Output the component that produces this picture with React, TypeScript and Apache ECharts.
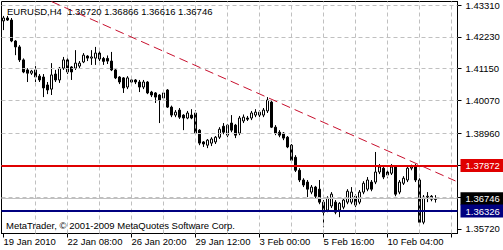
import React, { useEffect, useRef } from "react";
import * as echarts from "echarts";

// ---- data (EURUSD H4, 19 Jan 2010 16:00 onward) ----
const barOpen = [
  1.4277, 1.4287, 1.4280, 1.4209, 1.4189, 1.4145, 1.4111, 1.4100, 1.4111, 1.4090,
  1.4087, 1.4060, 1.4046, 1.4097, 1.4077, 1.4117, 1.4145, 1.4121, 1.4117, 1.4124,
  1.4138, 1.4158, 1.4151, 1.4151, 1.4168, 1.4150, 1.4150, 1.4141, 1.4111, 1.4087,
  1.4084, 1.4053, 1.4070, 1.4077, 1.4070, 1.4053, 1.4070, 1.4036, 1.4033, 1.4026,
  1.4016, 1.4043, 1.3985, 1.3958, 1.3975, 1.3958, 1.3948, 1.3958, 1.3965, 1.3907,
  1.3867, 1.3856, 1.3863, 1.3867, 1.3883, 1.3920, 1.3890, 1.3931, 1.3924, 1.3897,
  1.3938, 1.3948, 1.3948, 1.3958, 1.3958, 1.3958, 1.3972, 1.4002, 1.3917, 1.3900,
  1.3897, 1.3883, 1.3856, 1.3815, 1.3771, 1.3738, 1.3731, 1.3697, 1.3714, 1.3707,
  1.3663, 1.3636, 1.3650, 1.3663, 1.3636, 1.3646, 1.3663, 1.3663, 1.3683, 1.3663,
  1.3697, 1.3707, 1.3731, 1.3731, 1.3765, 1.3778, 1.3765, 1.3761, 1.3782, 1.3697,
  1.3727, 1.3738, 1.3778, 1.3782, 1.3738, 1.3595, 1.3680, 1.3683, 1.3672,
];
const barHigh = [
  1.4294, 1.4294, 1.4287, 1.4212, 1.4195, 1.4150, 1.4117, 1.4111, 1.4124, 1.4097,
  1.4097, 1.4070, 1.4134, 1.4111, 1.4121, 1.4155, 1.4161, 1.4124, 1.4178, 1.4141,
  1.4168, 1.4161, 1.4178, 1.4189, 1.4175, 1.4155, 1.4160, 1.4172, 1.4114, 1.4090,
  1.4087, 1.4090, 1.4084, 1.4080, 1.4077, 1.4077, 1.4073, 1.4040, 1.4036, 1.4029,
  1.4040, 1.4046, 1.3990, 1.3975, 1.3982, 1.3961, 1.3972, 1.3978, 1.3975, 1.3910,
  1.3870, 1.3877, 1.3883, 1.3887, 1.3917, 1.3931, 1.3928, 1.3958, 1.3928, 1.3955,
  1.3960, 1.3955, 1.3972, 1.3978, 1.3975, 1.3982, 1.4019, 1.4007, 1.3924, 1.3907,
  1.3900, 1.3887, 1.3860, 1.3822, 1.3778, 1.3744, 1.3738, 1.3721, 1.3718, 1.3738,
  1.3670, 1.3683, 1.3697, 1.3670, 1.3663, 1.3677, 1.3707, 1.3714, 1.3690, 1.3704,
  1.3734, 1.3748, 1.3738, 1.3833, 1.3792, 1.3785, 1.3771, 1.3792, 1.3788, 1.3738,
  1.3751, 1.3785, 1.3790, 1.3792, 1.3744, 1.3687, 1.3697, 1.3687, 1.36866,
];
const barLow = [
  1.4246, 1.4277, 1.4205, 1.4161, 1.4138, 1.4100, 1.4070, 1.4094, 1.4070, 1.4070,
  1.4019, 1.4029, 1.4026, 1.4070, 1.4067, 1.4111, 1.4097, 1.4077, 1.4111, 1.4117,
  1.4134, 1.4141, 1.4128, 1.4128, 1.4141, 1.4128, 1.4131, 1.4107, 1.4080, 1.4063,
  1.4033, 1.4046, 1.4063, 1.4063, 1.4036, 1.4046, 1.4029, 1.4019, 1.3999, 1.3931,
  1.4009, 1.3982, 1.3951, 1.3951, 1.3945, 1.3907, 1.3944, 1.3944, 1.3893, 1.3856,
  1.3850, 1.3846, 1.3853, 1.3860, 1.3877, 1.3893, 1.3883, 1.3900, 1.3880, 1.3890,
  1.3931, 1.3938, 1.3941, 1.3951, 1.3951, 1.3951, 1.3965, 1.3914, 1.3890, 1.3883,
  1.3873, 1.3846, 1.3800, 1.3765, 1.3731, 1.3714, 1.3680, 1.3690, 1.3677, 1.3656,
  1.3578, 1.3629, 1.3643, 1.3622, 1.3612, 1.3639, 1.3656, 1.3656, 1.3646, 1.3656,
  1.3690, 1.3700, 1.3700, 1.3724, 1.3758, 1.3741, 1.3744, 1.3755, 1.3683, 1.3690,
  1.3721, 1.3731, 1.3771, 1.3731, 1.3588, 1.3588, 1.3663, 1.3666, 1.36616,
];
const barClose = [
  1.4287, 1.4280, 1.4209, 1.4189, 1.4145, 1.4104, 1.4100, 1.4107, 1.4087, 1.4077,
  1.4050, 1.4043, 1.4094, 1.4077, 1.4117, 1.4145, 1.4104, 1.4104, 1.4134, 1.4134,
  1.4161, 1.4151, 1.4155, 1.4168, 1.4148, 1.4140, 1.4141, 1.4111, 1.4084, 1.4070,
  1.4050, 1.4084, 1.4077, 1.4070, 1.4053, 1.4070, 1.4033, 1.4026, 1.4019, 1.4009,
  1.4033, 1.3985, 1.3958, 1.3968, 1.3951, 1.3948, 1.3965, 1.3948, 1.3897, 1.3863,
  1.3860, 1.3873, 1.3877, 1.3883, 1.3910, 1.3900, 1.3924, 1.3907, 1.3890, 1.3948,
  1.3951, 1.3944, 1.3965, 1.3968, 1.3968, 1.3975, 1.4009, 1.3917, 1.3897, 1.3890,
  1.3880, 1.3850, 1.3805, 1.3771, 1.3738, 1.3721, 1.3707, 1.3714, 1.3683, 1.3663,
  1.3629, 1.3677, 1.3690, 1.3629, 1.3659, 1.3670, 1.3700, 1.3697, 1.3653, 1.3697,
  1.3727, 1.3738, 1.3707, 1.3765, 1.3782, 1.3748, 1.3755, 1.3782, 1.3690, 1.3731,
  1.3744, 1.3778, 1.3782, 1.3738, 1.3595, 1.3680, 1.3683, 1.3673, 1.36746,
];

const timeLabels = [
  "19 Jan 2010", "22 Jan 08:00", "26 Jan 20:00", "29 Jan 12:00",
  "3 Feb 00:00", "5 Feb 16:00", "10 Feb 04:00",
];
const gridPrices = [1.4331, 1.4223, 1.4115, 1.4007, 1.3896, 1.3788, 1.368];
const tickPrices = [1.4331, 1.4223, 1.4115, 1.4007, 1.3896, 1.3788, 1.368, 1.3572];
const labelPrices = [1.4331, 1.4223, 1.4115, 1.4007, 1.3896, 1.3572];
const resistanceLevel = 1.37872;
const supportLevel = 1.36326;
const bidLevel = 1.36746;
const trendAnchorBars = [12, 113];
const trendAnchorPrices = [1.43427, 1.37347];
const titleText = "EURUSD,H4  1.36720 1.36866 1.36616 1.36746";
const footerText = "MetaTrader, \u00a9 2001-2009 MetaQuotes Software Corp.";

const SLOTS = 114; // bars + empty shift area on the right
const BARS_PER_LABEL = 16;
const BARS_PER_VGRID = 8;

const FONT = "Liberation Sans";
const FS = 9.5;
const RED = "#e00000";
const NAVY = "#000080";

export default function App() {
  const ref = useRef<HTMLDivElement | null>(null);

  useEffect(() => {
    if (!ref.current) return;
    const chart = echarts.init(ref.current, undefined, { renderer: "svg" });

    const cats = Array.from({ length: SLOTS }, (_, i) => String(i));
    const candles = barOpen.map((o, i) => [o, barClose[i], barLow[i], barHigh[i]]);

    const vGrid: any[] = [];
    for (let i = BARS_PER_VGRID; i < SLOTS; i += BARS_PER_VGRID) vGrid.push({ xAxis: cats[i] });
    const hGrid = gridPrices.map((p) => ({ yAxis: p }));

    const levelLabel = (bg: string, text: string) => ({
      show: true,
      position: "end",
      formatter: text,
      color: "#fff",
      backgroundColor: bg,
      padding: [2, 8, 1, 5],
      distance: 3,
      fontFamily: FONT,
      fontSize: FS,
    });

    const option: any = {
      animation: false,
      backgroundColor: "#fff",
      grid: {
        left: 1.5,
        top: 1.5,
        width: 456,
        height: 232,
        show: true,
        borderColor: "#000",
        borderWidth: 1,
        backgroundColor: "#fff",
        containLabel: false,
        outerBoundsMode: "none",
      },
      xAxis: {
        type: "category",
        data: cats,
        boundaryGap: true,
        axisLine: { show: true, lineStyle: { color: "#000", width: 1 } },
        axisTick: {
          show: true,
          interval: BARS_PER_LABEL - 1,
          alignWithLabel: true,
          length: 4,
          lineStyle: { color: "#000" },
        },
        axisLabel: {
          interval: BARS_PER_LABEL - 1,
          align: "left",
          margin: 3,
          color: "#000",
          fontFamily: FONT,
          fontSize: FS,
          formatter: (_v: string, idx: number) => timeLabels[idx / BARS_PER_LABEL] ?? "",
        },
        splitLine: { show: false },
      },
      yAxis: {
        type: "value",
        position: "right",
        min: 1.355675,
        max: 1.434286,
        axisLine: { show: true, lineStyle: { color: "#000", width: 1 } },
        axisTick: {
          show: true,
          length: 4,
          inside: false,
          customValues: tickPrices,
          lineStyle: { color: "#000" },
        },
        axisLabel: {
          customValues: labelPrices,
          margin: 8,
          color: "#000",
          fontFamily: FONT,
          fontSize: FS,
          formatter: (v: number) => v.toFixed(5),
        },
        splitLine: { show: false },
      },
      graphic: [
        {
          type: "text",
          left: 7,
          top: 6,
          z: 100,
          style: { text: titleText, fill: "#000", fontFamily: FONT, fontSize: FS },
        },
        {
          type: "text",
          left: 6,
          top: 220,
          z: 100,
          style: { text: footerText, fill: "#000", fontFamily: FONT, fontSize: FS },
        },
      ],
      series: [
        {
          type: "line",
          data: cats.map(() => null),
          z: 1,
          silent: true,
          showSymbol: false,
          markLine: {
            silent: true,
            symbol: "none",
            precision: 5,
            label: { show: false },
            lineStyle: { color: "#c0c0c0", width: 1, type: [4, 3] },
            data: [...hGrid, ...vGrid],
          },
        },
        {
          type: "candlestick",
          data: candles,
          z: 2,
          barWidth: 2,
          itemStyle: {
            color: "#ffffff",
            color0: "#000000",
            borderColor: "#000000",
            borderColor0: "#000000",
            borderWidth: 1,
          },
          markLine: {
            silent: true,
            symbol: "none",
            precision: 5,
            label: { show: false },
            data: [
              {
                yAxis: bidLevel,
                lineStyle: { color: "#c0c0c0", width: 1, type: "solid" },
                label: levelLabel("#000", bidLevel.toFixed(5)),
              },
              {
                yAxis: resistanceLevel,
                lineStyle: { color: RED, width: 2, type: "solid" },
                label: levelLabel(RED, resistanceLevel.toFixed(5)),
              },
              {
                yAxis: supportLevel,
                lineStyle: { color: NAVY, width: 2, type: "solid" },
                label: levelLabel(NAVY, supportLevel.toFixed(5)),
              },
              [
                {
                  coord: [cats[trendAnchorBars[0]], trendAnchorPrices[0]],
                  lineStyle: { color: "#c8102e", width: 1, type: [9, 5] },
                },
                { coord: [cats[trendAnchorBars[1]], trendAnchorPrices[1]] },
              ],
            ],
          },
        },
      ],
    };

    chart.setOption(option);
    return () => chart.dispose();
  }, []);

  return (
    <div
      ref={ref}
      style={{ position: "fixed", left: 0, top: 0, width: 503, height: 250 }}
    />
  );
}
